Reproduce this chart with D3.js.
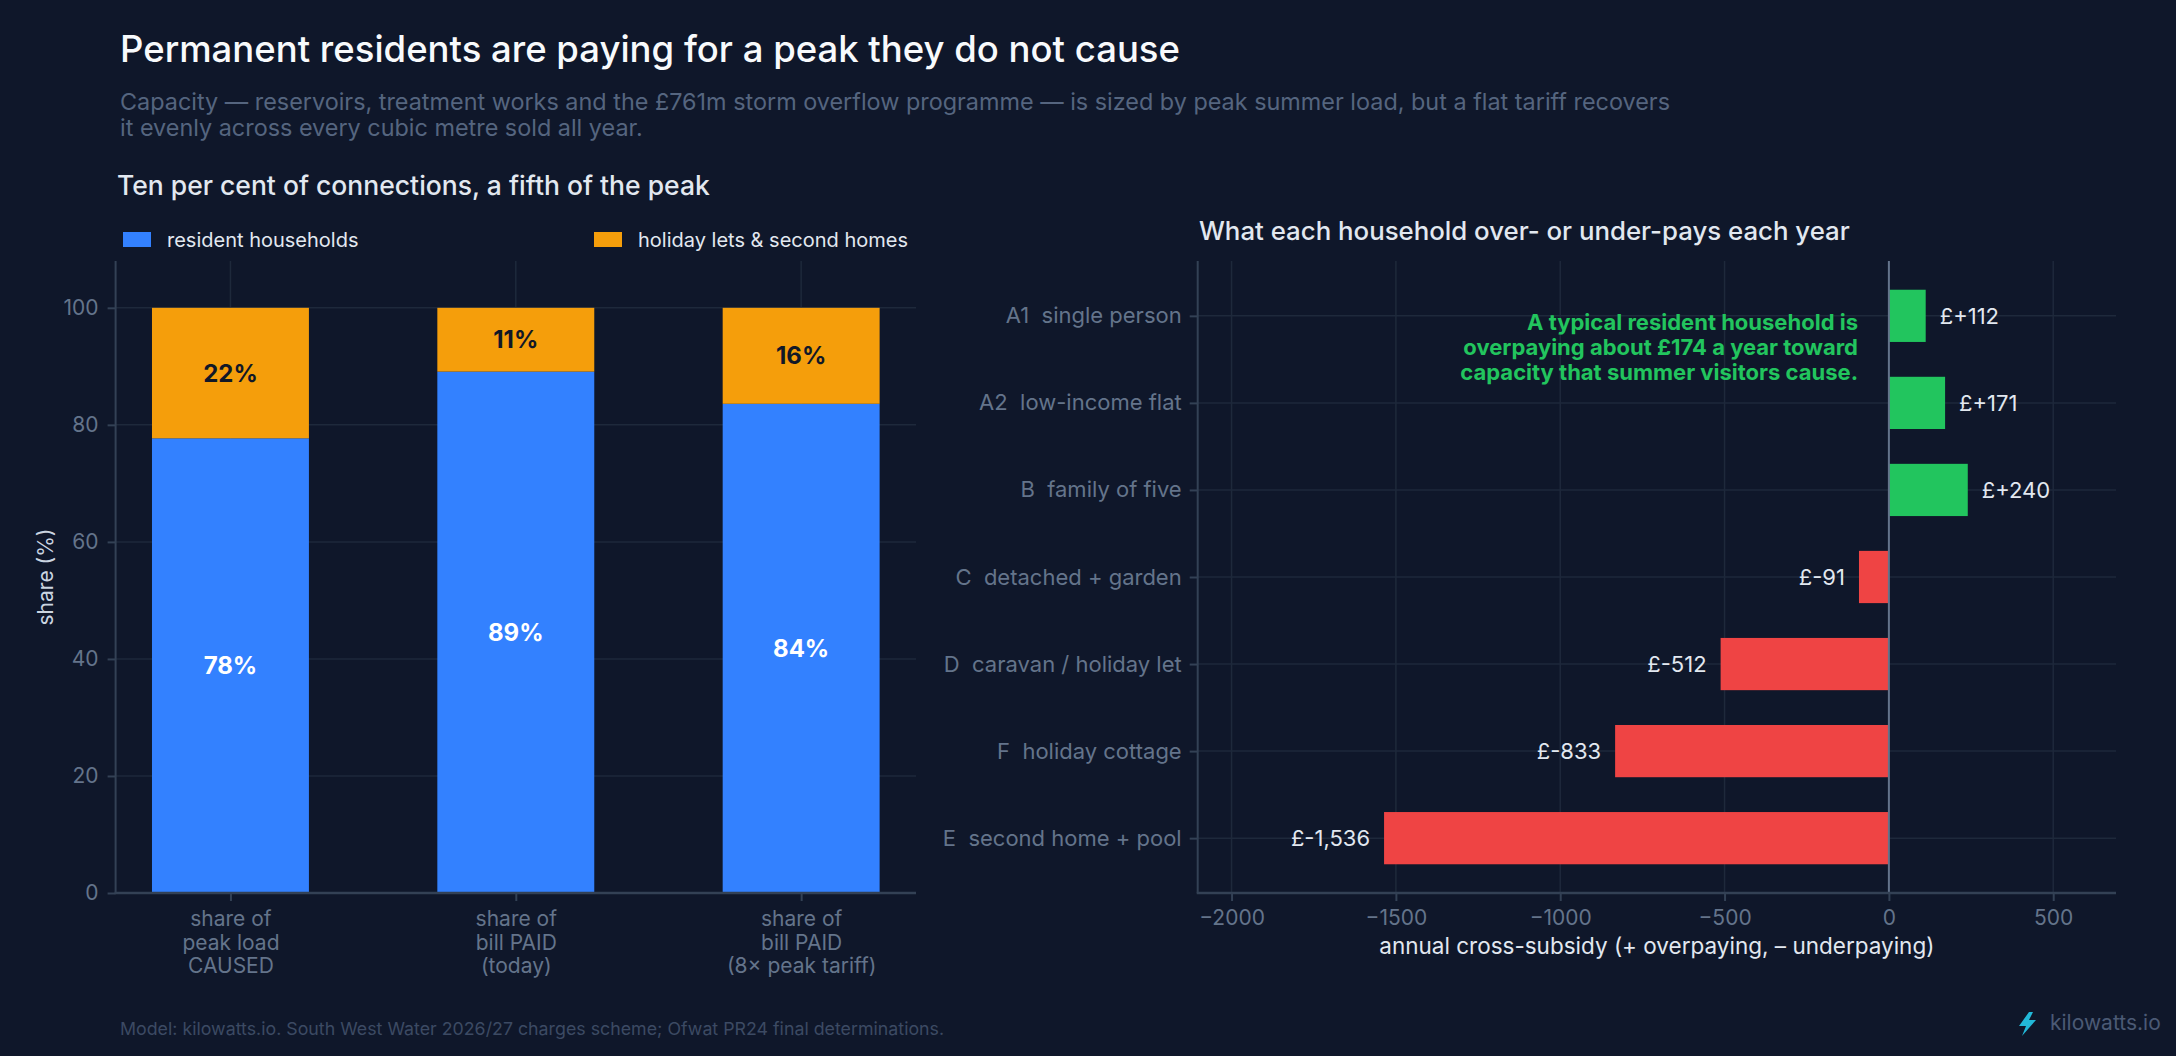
<!DOCTYPE html>
<html>
<head>
<meta charset="utf-8">
<script src="https://cdn.jsdelivr.net/npm/d3@7"></script>
<style>
  html, body { margin: 0; padding: 0; background: #0f172a; }
  svg { display: block; }
  text { font-family: Inter, "Noto Sans", sans-serif; }
</style>
</head>
<body>
<svg id="chart" width="2176" height="1056"></svg>
<script>
// ---- data ----
var barCategories = [
    ['share of', 'peak load', 'CAUSED'],
    ['share of', 'bill PAID', '(today)'],
    ['share of', 'bill PAID', '(8\u00d7 peak tariff)']
];
var residentShare = [77.7, 89.1, 83.6];
var holidayShare = [22.3, 10.9, 16.4];
var shareTicks = [0, 20, 40, 60, 80, 100];

var households = [
    'A1  single person',
    'A2  low-income flat',
    'B  family of five',
    'C  detached + garden',
    'D  caravan / holiday let',
    'F  holiday cottage',
    'E  second home + pool'
];
var crossSubsidy = [112, 171, 240, -91, -512, -833, -1536];
var subsidyTicks = [-2000, -1500, -1000, -500, 0, 500];

// ---- colours ----
var BG = '#0f172a', GRID = '#1e293b', SPINE = '#334155', TICK = '#64748b';
var BLUE = '#3381ff', ORANGE = '#f59e0b', GREEN = '#22c55e', RED = '#ef4444';
var LIGHT = '#e2e8f0';

var svg = d3.select('#chart');
svg.append('rect').attr('width', 2176).attr('height', 1056).attr('fill', BG);

// ---- headings ----
svg.append('text').attr('x', 120).attr('y', 62)
    .attr('fill', '#f8fafc').attr('font-size', 36.5).attr('font-weight', 500)
    .text('Permanent residents are paying for a peak they do not cause');

var sub = svg.append('text').attr('fill', '#55657f').attr('font-size', 23.4);
sub.append('tspan').attr('x', 120).attr('y', 110)
    .text('Capacity \u2014 reservoirs, treatment works and the \u00a3761m storm overflow programme \u2014 is sized by peak summer load, but a flat tariff recovers');
sub.append('tspan').attr('x', 120).attr('y', 136)
    .text('it evenly across every cubic metre sold all year.');

svg.append('text').attr('x', 117).attr('y', 195)
    .attr('fill', LIGHT).attr('font-size', 26.5).attr('font-weight', 500)
    .text('Ten per cent of connections, a fifth of the peak');

svg.append('text').attr('x', 1199).attr('y', 240)
    .attr('fill', LIGHT).attr('font-size', 25.8).attr('font-weight', 500)
    .text('What each household over- or under-pays each year');

// ---- left: stacked share bars ----
var L = { left: 115.6, right: 916, top: 261, bottom: 893 };
var xL = d3.scaleLinear().domain([-0.4025, 2.4025]).range([L.left, L.right]);
var yL = d3.scaleLinear().domain([0, 108]).range([L.bottom, L.top]);
var barW = 0.55;

var gl = svg.append('g');
gl.selectAll('.hgrid').data(shareTicks).enter().append('line')
    .attr('x1', L.left).attr('x2', L.right)
    .attr('y1', function(d){ return yL(d); }).attr('y2', function(d){ return yL(d); })
    .attr('stroke', GRID).attr('stroke-width', 1.5);
gl.selectAll('.vgrid').data(barCategories).enter().append('line')
    .attr('x1', function(d, i){ return xL(i); }).attr('x2', function(d, i){ return xL(i); })
    .attr('y1', L.top).attr('y2', L.bottom)
    .attr('stroke', GRID).attr('stroke-width', 1.5);

gl.selectAll('.res').data(residentShare).enter().append('rect')
    .attr('x', function(d, i){ return xL(i - barW/2); })
    .attr('width', xL(barW) - xL(0))
    .attr('y', function(d){ return yL(d); })
    .attr('height', function(d){ return yL(0) - yL(d); })
    .attr('fill', BLUE);
gl.selectAll('.hol').data(holidayShare).enter().append('rect')
    .attr('x', function(d, i){ return xL(i - barW/2); })
    .attr('width', xL(barW) - xL(0))
    .attr('y', function(d, i){ return yL(residentShare[i] + d); })
    .attr('height', function(d, i){ return yL(residentShare[i]) - yL(residentShare[i] + d); })
    .attr('fill', ORANGE);

gl.selectAll('.resLab').data(residentShare).enter().append('text')
    .attr('x', function(d, i){ return xL(i); })
    .attr('y', function(d){ return yL(d/2); })
    .attr('dy', '0.36em').attr('text-anchor', 'middle')
    .attr('fill', '#ffffff').attr('font-size', 24).attr('font-weight', 700)
    .text(function(d){ return Math.round(d) + '%'; });
gl.selectAll('.holLab').data(holidayShare).enter().append('text')
    .attr('x', function(d, i){ return xL(i); })
    .attr('y', function(d, i){ return yL(residentShare[i] + d/2); })
    .attr('dy', '0.36em').attr('text-anchor', 'middle')
    .attr('fill', '#111827').attr('font-size', 24).attr('font-weight', 700)
    .text(function(d){ return Math.round(d) + '%'; });

// spines
gl.append('line').attr('x1', L.left).attr('x2', L.left).attr('y1', L.top).attr('y2', L.bottom)
    .attr('stroke', SPINE).attr('stroke-width', 2);
gl.append('line').attr('x1', L.left - 1).attr('x2', L.right).attr('y1', L.bottom).attr('y2', L.bottom)
    .attr('stroke', SPINE).attr('stroke-width', 2.5);

// y axis ticks
var yAxisL = gl.append('g').attr('transform', 'translate(' + L.left + ',0)')
    .call(d3.axisLeft(yL).tickValues(shareTicks).tickSize(8).tickPadding(9));
// x axis ticks, category names on three lines
var xAxisL = gl.append('g').attr('transform', 'translate(0,' + L.bottom + ')')
    .call(d3.axisBottom(xL).tickValues([0, 1, 2]).tickSize(8).tickFormat(''));
xAxisL.selectAll('.tick').each(function(d){
    var t = d3.select(this).append('text').attr('text-anchor', 'middle')
        .attr('fill', TICK).attr('font-size', 21);
    barCategories[d].forEach(function(line, k){
        t.append('tspan').attr('x', 0).attr('y', 33 + k*23.5).text(line);
    });
});

gl.append('text')
    .attr('transform', 'translate(53,' + ((L.top + L.bottom)/2) + ') rotate(-90)')
    .attr('text-anchor', 'middle').attr('fill', '#cbd5e1').attr('font-size', 21)
    .text('share (%)');

// legend
var legend = [
    { label: 'resident households', color: BLUE, x: 123 },
    { label: 'holiday lets & second homes', color: ORANGE, x: 594 }
];
var lg = svg.selectAll('.legend').data(legend).enter().append('g')
    .attr('transform', function(d){ return 'translate(' + d.x + ',232)'; });
lg.append('rect').attr('width', 28).attr('height', 15).attr('fill', function(d){ return d.color; });
lg.append('text').attr('x', 44).attr('y', 8).attr('dy', '0.36em')
    .attr('fill', LIGHT).attr('font-size', 20)
    .text(function(d){ return d.label; });

// ---- right: cross-subsidy bars ----
var R = { left: 1197.7, right: 2116, top: 261, bottom: 893 };
var xR = d3.scaleLinear().domain([-2103, 691]).range([R.left, R.right]);
var yR = d3.scaleLinear().domain([-0.63, 6.63]).range([R.top, R.bottom]);
var barH = 0.6;
var money = d3.formatLocale({ decimal: '.', thousands: ',', grouping: [3], currency: ['\u00a3', ''], minus: '-' }).format(',');

var gr = svg.append('g');
gr.selectAll('.vgrid').data(subsidyTicks).enter().append('line')
    .attr('x1', function(d){ return xR(d); }).attr('x2', function(d){ return xR(d); })
    .attr('y1', R.top).attr('y2', R.bottom)
    .attr('stroke', GRID).attr('stroke-width', 1.5);
gr.selectAll('.hgrid').data(households).enter().append('line')
    .attr('x1', R.left).attr('x2', R.right)
    .attr('y1', function(d, i){ return yR(i); }).attr('y2', function(d, i){ return yR(i); })
    .attr('stroke', GRID).attr('stroke-width', 1.5);

gr.selectAll('.bar').data(crossSubsidy).enter().append('rect')
    .attr('x', function(d){ return xR(Math.min(0, d)); })
    .attr('width', function(d){ return Math.abs(xR(d) - xR(0)); })
    .attr('y', function(d, i){ return yR(i - barH/2); })
    .attr('height', yR(barH) - yR(0))
    .attr('fill', function(d){ return d >= 0 ? GREEN : RED; });

gr.selectAll('.val').data(crossSubsidy).enter().append('text')
    .attr('x', function(d){ return xR(d) + (d >= 0 ? 14 : -14); })
    .attr('y', function(d, i){ return yR(i); })
    .attr('dy', '0.36em')
    .attr('text-anchor', function(d){ return d >= 0 ? 'start' : 'end'; })
    .attr('fill', LIGHT).attr('font-size', 22)
    .text(function(d){ return '\u00a3' + (d > 0 ? '+' : '') + money(d); });

// zero line and spines
gr.append('line').attr('x1', xR(0)).attr('x2', xR(0)).attr('y1', R.top).attr('y2', R.bottom)
    .attr('stroke', TICK).attr('stroke-width', 2);
gr.append('line').attr('x1', R.left).attr('x2', R.left).attr('y1', R.top).attr('y2', R.bottom)
    .attr('stroke', SPINE).attr('stroke-width', 2);
gr.append('line').attr('x1', R.left - 1).attr('x2', R.right).attr('y1', R.bottom).attr('y2', R.bottom)
    .attr('stroke', SPINE).attr('stroke-width', 2.5);

var yAxisR = gr.append('g').attr('transform', 'translate(' + R.left + ',0)')
    .call(d3.axisLeft(yR).tickValues(d3.range(households.length)).tickSize(8).tickPadding(8)
        .tickFormat(function(i){ return households[i]; }));
var xAxisR = gr.append('g').attr('transform', 'translate(0,' + R.bottom + ')')
    .call(d3.axisBottom(xR).tickValues(subsidyTicks).tickSize(8).tickPadding(9).tickFormat(d3.format('d')));

[yAxisL, xAxisL, yAxisR, xAxisR].forEach(function(ax){
    ax.select('.domain').remove();
    ax.selectAll('.tick line').attr('stroke', SPINE).attr('stroke-width', 2);
    ax.selectAll('.tick text').attr('fill', TICK).attr('font-size', 21)
        .attr('font-family', 'Inter, "Noto Sans", sans-serif');
});
yAxisR.selectAll('.tick text').attr('font-size', 22).style('white-space', 'pre');

gr.append('text').attr('x', (R.left + R.right)/2).attr('y', 954)
    .attr('text-anchor', 'middle').attr('fill', LIGHT).attr('font-size', 22.5)
    .text('annual cross-subsidy (+ overpaying, \u2013 underpaying)');

// annotation
var note = ['A typical resident household is', 'overpaying about \u00a3174 a year toward', 'capacity that summer visitors cause.'];
gr.append('text').attr('text-anchor', 'end').attr('fill', GREEN)
    .attr('font-size', 22).attr('font-weight', 700)
    .selectAll('tspan').data(note).enter().append('tspan')
    .attr('x', 1858).attr('y', function(d, i){ return 330 + i*25; })
    .text(function(d){ return d; });

// ---- footer ----
svg.append('text').attr('x', 120).attr('y', 1035)
    .attr('fill', '#3c4a63').attr('font-size', 17.8)
    .text('Model: kilowatts.io. South West Water 2026/27 charges scheme; Ofwat PR24 final determinations.');

svg.append('path')
    .attr('d', 'M 2029 1012 L 2019 1026 L 2026 1026 L 2022 1036 L 2036 1020 L 2029 1020 L 2033 1012 Z')
    .attr('fill', '#22b8d8');
svg.append('text').attr('x', 2050).attr('y', 1030)
    .attr('fill', '#4b5a75').attr('font-size', 21)
    .text('kilowatts.io');
</script>
</body>
</html>
